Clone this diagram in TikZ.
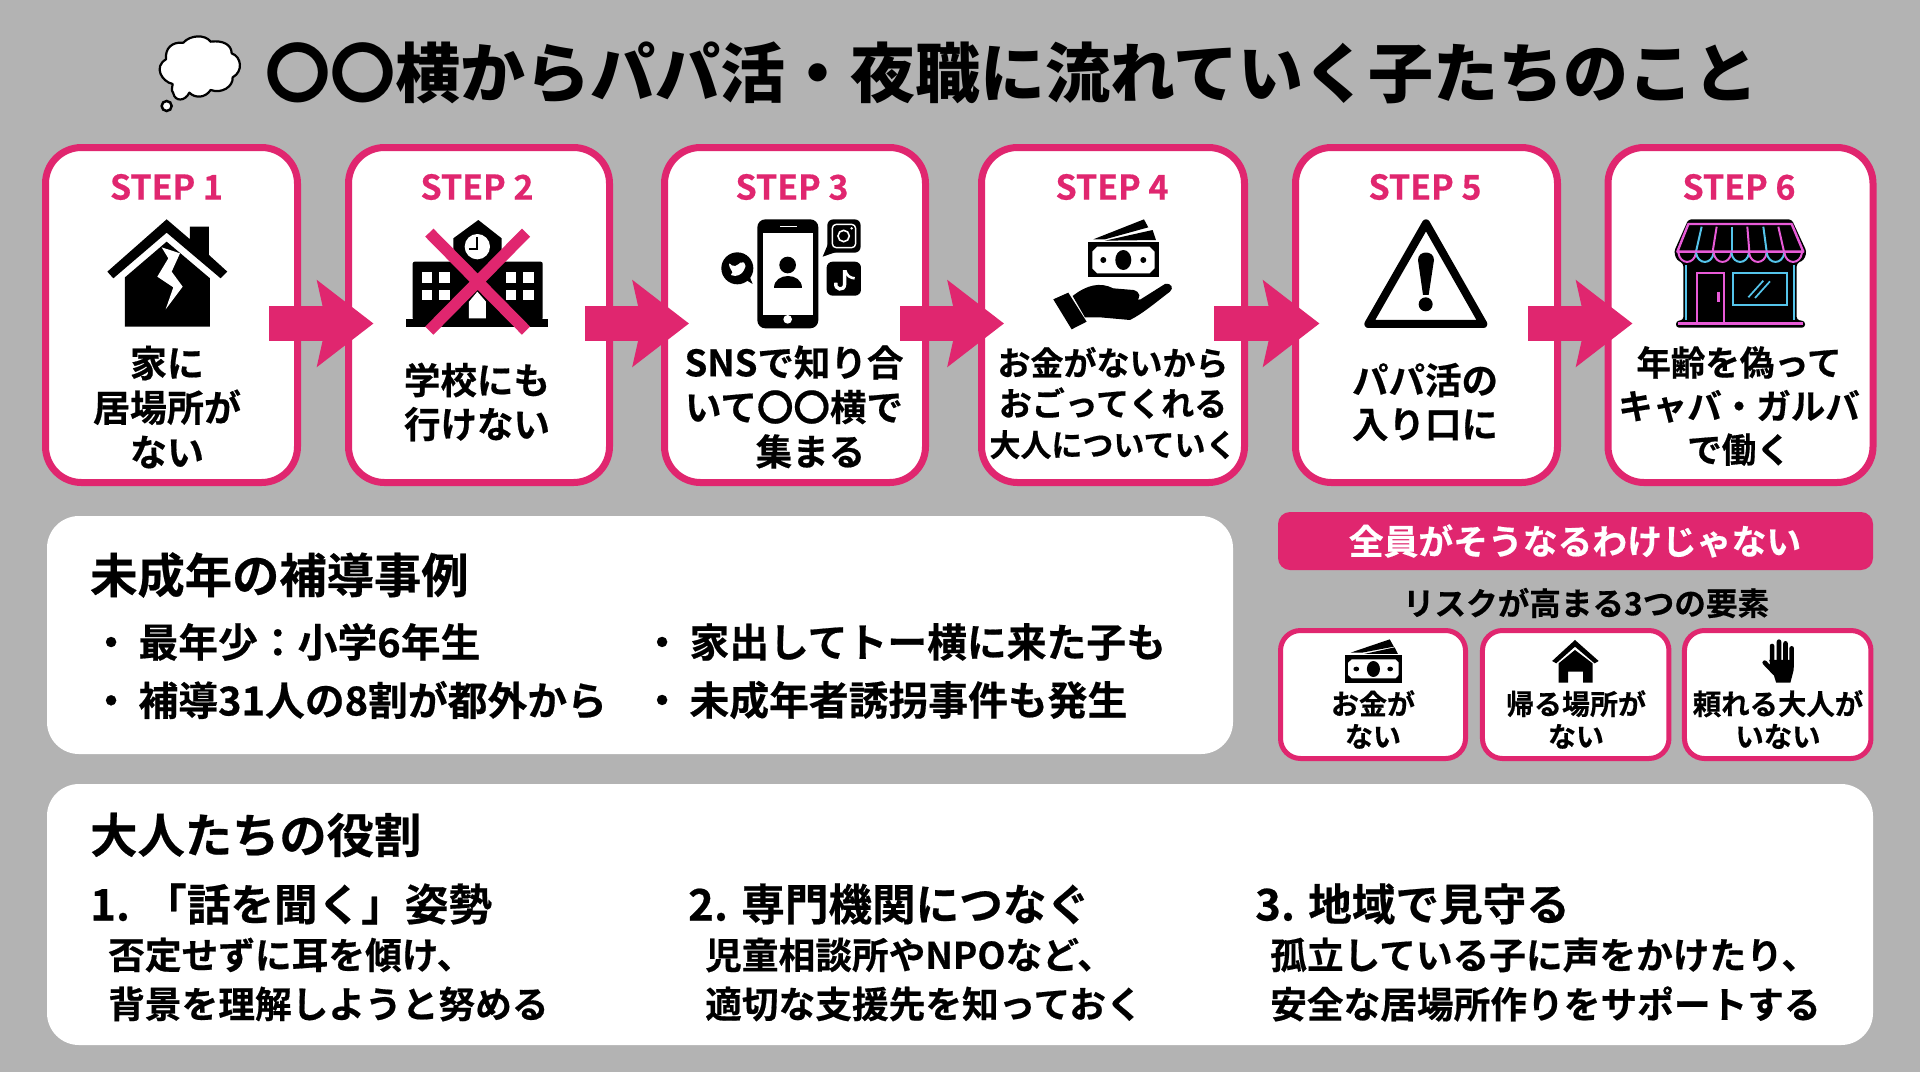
\documentclass[tikz,border=0pt]{standalone}
\usepackage{fontspec}
\setmainfont{Noto Sans CJK JP}[BoldFont=* Bold,BoldFeatures={FakeBold=0.5}]
\newfontfamily\blackf{Noto Sans CJK JP Black}
\usetikzlibrary{arrows.meta,calc}
\definecolor{bggray}{HTML}{B3B3B3}
\definecolor{hotpink}{HTML}{E0266F}
\definecolor{neonm}{HTML}{E85BD8}
\definecolor{neonc}{HTML}{55C4EA}
\newcommand{\fz}[2]{\fontsize{#1}{#2}\selectfont\bfseries}
\tikzset{
  stepbox/.style={draw=hotpink,line width=7pt,fill=white,rounded corners=36pt,inner sep=0pt},
  minibox/.style={draw=hotpink,line width=5pt,fill=white,rounded corners=20pt,inner sep=0pt},
  panelbox/.style={fill=white,rounded corners=32pt,inner sep=0pt,outer sep=0pt},
  steplabel/.style={text=hotpink,font=\fz{34}{40},inner sep=0pt},
  bodytext/.style={align=center,inner sep=0pt,text=black},
  lefttext/.style={anchor=west,inner sep=0pt,text=black},
  flow/.style={draw=hotpink,line width=35pt,-{Stealth[length=56pt,width=85pt,inset=9pt,fill=hotpink]}},
  icon/.style n args={3}{shift={(#1pt,-#2pt)},x=#3pt,y=-#3pt},
}
\begin{document}
\begin{tikzpicture}[x=1pt,y=-1pt]
\useasboundingbox (0,0) rectangle (1920,1072);
\fill[bggray] (0,0) rectangle (1920,1072);

% cloud
\begin{scope}[icon={140}{20}{0.3333}]
\draw[fill=white,line width=2.2pt,line join=round]
  (78,118) .. controls (75,85) and (95,65) .. (130,68)
  .. controls (150,45) and (195,42) .. (212,65)
  .. controls (250,60) and (275,75) .. (275,100)
  .. controls (305,110) and (310,155) .. (278,172)
  .. controls (280,200) and (245,222) .. (212,210)
  .. controls (195,235) and (165,235) .. (148,218)
  .. controls (135,245) and (105,245) .. (100,220)
  .. controls (92,210) and (98,200) .. (98,192)
  .. controls (65,185) and (40,140) .. (78,118) -- cycle;
\draw[fill=white,line width=2.5pt] (80,258) circle[radius=15];
\end{scope}

\node[font=\blackf\fontsize{65}{75}\selectfont,anchor=west,inner sep=0pt] (title) at (265,73) {〇〇横からパパ活・夜職に流れていく子たちのこと};

% step boxes
\node[stepbox,minimum width=252pt,minimum height=335pt] (s1) at (171.5,315) {};
\node[stepbox,minimum width=261pt,minimum height=335pt] (s2) at (479,315) {};
\node[stepbox,minimum width=261pt,minimum height=335pt] (s3) at (795,315) {};
\node[stepbox,minimum width=263pt,minimum height=335pt] (s4) at (1113,315) {};
\node[stepbox,minimum width=262pt,minimum height=335pt] (s5) at (1426.5,315) {};
\node[stepbox,minimum width=265pt,minimum height=335pt] (s6) at (1740.5,315) {};

\node[steplabel] (l1) at (166.5,187) {STEP 1};
\node[steplabel] (l2) at (477,187) {STEP 2};
\node[steplabel] (l3) at (792,187) {STEP 3};
\node[steplabel] (l4) at (1112,187) {STEP 4};
\node[steplabel] (l5) at (1425,187) {STEP 5};
\node[steplabel] (l6) at (1739,187) {STEP 6};

\node[bodytext,font=\fz{37}{44.5}] (b1) at (167,407) {家に\\居場所が\\ない};
\node[bodytext,font=\fz{36.5}{44}] (b2) at (477,402) {学校にも\\行けない};
\node[bodytext,font=\fz{36.5}{44.5}] (b3) at (794,407) {SNSで知り合\\いて〇〇横で\\\hspace*{33pt}集まる};
\node[bodytext,font=\fz{33}{40.5}] (b4) at (1113,403) {お金がないから\\おごってくれる\\\fz{31}{40.5}大人についていく};
\node[bodytext,font=\fz{36.5}{44}] (b5) at (1425,402) {パパ活の\\入り口に};
\node[bodytext,font=\fz{34.5}{43.5}] (b6) at (1739,406) {年齢を偽って\\キャバ・ガルバ\\で働く};

% house icon
\begin{scope}[icon={100}{210}{0.3333}]
\fill[black] (22,185) -- (200,28) -- (270,88) -- (270,50) -- (327,50) -- (327,135) -- (382,185) -- (362,205) -- (200,68) -- (40,205) -- cycle;
\fill[black] (75,202) -- (200,95) -- (330,205) -- (330,350) -- (75,350) -- cycle;
\fill[white] (185,112) -- (240,130) -- (215,185) -- (248,230) -- (197,298) -- (220,232) -- (172,200) -- (205,145) -- cycle;
\end{scope}

% school icon
\begin{scope}[icon={400}{220}{0.3333}]
\fill[black] (17,297) rectangle (444,321);
\fill[black,rounded corners=2pt] (38,125) rectangle (428,300);
\fill[black] (160,140) -- (160,55) -- (235,0) -- (305,55) -- (305,140) -- cycle;
\fill[white] (232,80) circle[radius=38];
\draw[black,line width=2pt] (232,52) -- (232,88) -- (208,88);
\foreach \wx in {65,118,317,370}{\foreach \wy in {157,210}{\fill[white] (\wx,\wy) rectangle +(32,31);}}
\fill[white] (207,295) -- (207,245) -- (232,215) -- (258,245) -- (258,295) -- cycle;
\draw[hotpink,line width=11.5pt] (88,38) -- (378,332) (378,38) -- (88,332);
\end{scope}

% phone + sns
\begin{scope}[icon={700}{210}{0.3333}]
\fill[black,rounded corners=8pt] (172,28) rectangle (355,355);
\fill[white] (188,70) rectangle (340,315);
\draw[white,line width=1.6pt] (240,50) -- (290,50);
\fill[white] (263,328) circle[radius=13];
\fill[black] (263,165) circle[radius=25];
\fill[black] (222,235) .. controls (222,185) and (305,185) .. (305,235) -- cycle;
\fill[black] (112,175) circle[radius=48];
\fill[black] (130,205) -- (158,222) -- (145,190) -- cycle;
\fill[white,rounded corners=2pt] (86,158) -- (100,170) -- (112,166) -- (125,154) -- (138,162) -- (134,178) -- (122,194) -- (100,199) -- (90,193) -- (100,188) -- (90,176) -- cycle;
\fill[black,rounded corners=6pt] (382,28) rectangle (482,128);
\fill[black] (385,100) -- (368,140) -- (420,122) -- cycle;
\draw[white,line width=1.4pt,rounded corners=4pt] (397,43) rectangle (467,113);
\draw[white,line width=1.6pt] (431,78) circle[radius=17];
\fill[white] (455,55) circle[radius=4];
\fill[black,rounded corners=6pt] (380,155) rectangle (483,257);
\draw[white,line width=3.4pt] (434,180) -- (434,222) .. controls (434,245) and (402,240) .. (408,218);
\draw[white,line width=2.6pt] (436,182) .. controls (440,198) and (452,204) .. (464,205);
\end{scope}

% money + hand
\begin{scope}[icon={700}{210}{0.3333}]
\fill[black] (1180,88) -- (1332,28) -- (1345,52) -- (1215,88) -- cycle;
\fill[black] (1215,92) -- (1358,60) -- (1368,90) -- cycle;
\fill[black] (1163,97) rectangle (1378,202);
\fill[white] (1192,110) -- (1349,110) -- (1364,125) -- (1364,175) -- (1349,190) -- (1192,190) -- (1177,175) -- (1177,125) -- cycle;
\fill[black] (1270,150) ellipse[x radius=24,y radius=30];
\fill[black] (1210,150) circle[radius=9] (1330,150) circle[radius=9];
\fill[black] (1060,268) -- (1105,248) -- (1160,335) -- (1115,358) -- cycle;
\fill[black] (1118,258) .. controls (1160,225) and (1200,215) .. (1240,235) -- (1300,240) .. controls (1322,245) and (1325,265) .. (1305,275) -- (1240,280) -- (1322,268) -- (1395,222) .. controls (1415,218) and (1422,235) .. (1410,245) .. controls (1370,275) and (1330,310) .. (1290,330) -- (1200,322) -- (1155,322) -- cycle;
\end{scope}

% warning
\begin{scope}[icon={1340}{210}{0.3333}]
\draw[black,line width=8pt,line join=round] (258,40) -- (430,342) -- (85,342) -- cycle;
\fill[black] (234,150) .. controls (234,120) and (282,120) .. (282,150) -- (266,255) -- (249,255) -- cycle;
\fill[black] (257,283) circle[radius=21];
\end{scope}

% shop
\begin{scope}[icon={1660}{210}{0.3333}]
\fill[black,rounded corners=3pt] (85,28) -- (395,28) -- (440,125) -- (432,150) -- (410,160) -- (410,330) -- (435,333) -- (435,353) -- (48,353) -- (48,333) -- (70,330) -- (70,160) -- (50,150) -- (42,125) -- cycle;
\foreach \ax/\bx in {125/108,215/215,310/320}{\draw[neonc,line width=2pt] (\ax,50) -- (\bx,125);}
\foreach \ax/\bx in {170/158,262/268,355/372}{\draw[neonm,line width=2pt] (\ax,50) -- (\bx,125);}
\draw[neonm,line width=2.4pt,line join=round] (85,42) -- (395,42) -- (430,125) -- (52,125) -- cycle;
\foreach \cx/\cc in {55/neonm,108/neonc,161/neonm,214/neonc,267/neonm,320/neonc,373/neonm}{\draw[\cc,line width=2pt] (\cx,128) .. controls (\cx+5,165) and (\cx+48,165) .. (\cx+53,128);}
\draw[neonc,line width=2.2pt] (78,165) -- (78,330) (403,165) -- (403,330);
\draw[neonm,line width=2.2pt] (110,335) -- (110,188) -- (192,188) -- (192,335);
\draw[neonm,line width=2.4pt] (176,245) -- (176,275);
\draw[neonc,line width=2.2pt] (220,188) rectangle (382,285);
\draw[neonc,line width=1.7pt] (265,262) -- (310,212) (285,264) -- (330,214);
\draw[neonm,line width=3pt] (55,340) -- (430,340);
\end{scope}

% arrows
\draw[flow] ($(s1.east)+(-32,8.5)$) -- ($(s2.west)+(28.5,8.5)$);
\draw[flow] ($(s2.east)+(-28,8.5)$) -- ($(s3.west)+(28,8.5)$);
\draw[flow] ($(s3.east)+(-29,8.5)$) -- ($(s4.west)+(26,8.5)$);
\draw[flow] ($(s4.east)+(-34,8.5)$) -- ($(s5.west)+(27.5,8.5)$);
\draw[flow] ($(s5.east)+(-33,8.5)$) -- ($(s6.west)+(28,8.5)$);

% panel: cases
\node[panelbox,minimum width=1186pt,minimum height=238pt] (p1) at (640,635) {};
\node[lefttext,font=\fz{47.3}{54}] (h1) at (90,575) {未成年の補導事例};
\node[lefttext,font=\fz{39.8}{46}] (c1) at (91,642) {・\hspace{7.5pt}最年少：小学6年生};
\node[lefttext,font=\fz{39.8}{46}] (c2) at (91,700) {・\hspace{7.5pt}補導31人の8割が都外から};
\node[lefttext,font=\fz{39.8}{46}] (c3) at (642,642) {・\hspace{7.5pt}家出してトー横に来た子も};
\node[lefttext,font=\fz{39.8}{46}] (c4) at (642,700) {・\hspace{7.5pt}未成年者誘拐事件も発生};

% right block
\node[fill=hotpink,rounded corners=12pt,minimum width=595pt,minimum height=58pt,inner sep=0pt,outer sep=0pt] (bn) at (1575.5,541) {};
\node[text=white,font=\fz{34.8}{40},inner sep=0pt] (bt) at (1575,541) {全員がそうなるわけじゃない};
\node[font=\fz{31.6}{38},inner sep=0pt] (rt) at (1586,603) {リスクが高まる3つの要素};
\node[minibox,minimum width=185pt,minimum height=128pt] (m1) at (1373,694.5) {};
\node[minibox,minimum width=186.5pt,minimum height=128pt] (m2) at (1575.7,694.5) {};
\node[minibox,minimum width=186.5pt,minimum height=128pt] (m3) at (1777.7,694.5) {};
\node[bodytext,font=\fz{28}{32.5}] (mt1) at (1373,719.5) {お金が\\ない};
\node[bodytext,font=\fz{28}{32.5}] (mt2) at (1576,719.5) {帰る場所が\\ない};
\node[bodytext,font=\fz{28.4}{32.5}] (mt3) at (1778,719.5) {頼れる大人が\\いない};

\begin{scope}[shift={(1260pt,-500pt)},x=0.408pt,y=-0.3333pt]
\fill[black] (222,458) -- (318,418) -- (328,440) -- (250,458) -- cycle;
\fill[black] (255,462) -- (330,442) -- (338,462) -- cycle;
\fill[black] (208,465) rectangle (348,548);
\fill[white] (225,478) -- (332,478) -- (340,488) -- (340,525) -- (332,535) -- (225,535) -- (216,525) -- (216,488) -- cycle;
\fill[black] (278,507) ellipse[x radius=16,y radius=24];
\fill[black] (236,507) circle[radius=7] (319,507) circle[radius=7];
\fill[black] (716,483) -- (772,420) -- (830,483) -- (820,490) -- (772,440) -- (726,490) -- cycle;
\fill[black] (732,490) -- (772,450) -- (815,490) -- (815,548) -- (792,548) -- (792,515) -- (755,515) -- (755,548) -- (732,548) -- cycle;
\fill[black] (1248,480) -- (1308,480) -- (1308,510) -- (1300,548) -- (1265,548) -- cycle;
\draw[black,line width=4.6pt,line cap=round] (1237,488) -- (1262,520) (1255,500) -- (1255,438) (1272,500) -- (1272,425) (1288,500) -- (1288,430) (1303,500) -- (1303,445);
\end{scope}

% panel: adults
\node[panelbox,minimum width=1826pt,minimum height=261pt] (p2) at (960,914.5) {};
\node[lefttext,font=\fz{47.3}{54}] (h2) at (90,835) {大人たちの役割};
\node[lefttext,font=\fz{43.6}{50}] (a1) at (90,904) {1. 「話を聞く」姿勢};
\node[lefttext,font=\fz{43.6}{50}] (a2) at (688,904) {2. 専門機関につなぐ};
\node[lefttext,font=\fz{43.6}{50}] (a3) at (1255,904) {3. 地域で見守る};
\node[lefttext,font=\fz{36.7}{43}] (d1) at (108,955) {否定せずに耳を傾け、};
\node[lefttext,font=\fz{36.7}{43}] (d2) at (108,1004) {背景を理解しようと努める};
\node[lefttext,font=\fz{36.7}{43}] (d3) at (705,955) {児童相談所やNPOなど、};
\node[lefttext,font=\fz{36.7}{43}] (d4) at (705,1004) {適切な支援先を知っておく};
\node[lefttext,font=\fz{36.7}{43}] (d5) at (1270,955) {孤立している子に声をかけたり、};
\node[lefttext,font=\fz{36.7}{43}] (d6) at (1270,1004) {安全な居場所作りをサポートする};
\end{tikzpicture}
\end{document}
